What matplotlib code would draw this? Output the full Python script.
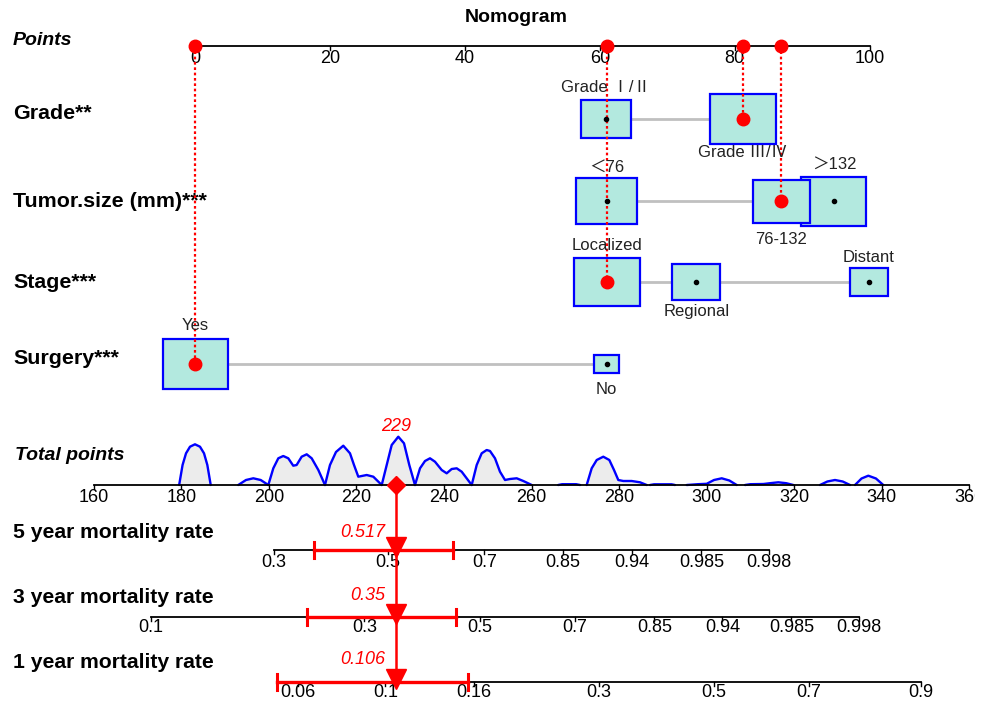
import matplotlib
matplotlib.use("Agg")
import matplotlib.pyplot as plt
from matplotlib.patches import Rectangle
from matplotlib.transforms import Bbox

# ---------------- data ----------------
title = "Nomogram"
var_names = ["Grade**", "Tumor.size (mm)***", "Stage***", "Surgery***"]
grade_levels = ["Grade \u2160/\u2161", "Grade \u2162/\u2163"]
grade_points = [60.9, 81.2]
tumor_levels = ["\uff1c76", "76-132", "\uff1e132"]
tumor_points = [61.0, 86.9, 94.7]
stage_levels = ["Localized", "Regional", "Distant"]
stage_points = [61.0, 74.3, 99.9]
surgery_levels = ["Yes", "No"]
surgery_points = [0.0, 61.0]
selected_level = [1, 1, 0, 0]

points_ticks = [0, 20, 40, 60, 80, 100]
total_ticks = [160, 180, 200, 220, 240, 260, 280, 300, 320, 340, 360]
total_score = 229

mort_names = ["5 year mortality rate", "3 year mortality rate", "1 year mortality rate"]
mort5_ticks = ["0.3", "0.5", "0.7", "0.85", "0.94", "0.985", "0.998"]
mort5_pos = [201.2, 227.2, 249.2, 267.2, 282.9, 298.8, 314.3]
mort3_ticks = ["0.1", "0.3", "0.5", "0.7", "0.85", "0.94", "0.985", "0.998"]
mort3_pos = [173.0, 221.8, 248.2, 269.9, 288.1, 303.6, 319.4, 334.9]
mort1_ticks = ["0.06", "0.1", "0.16", "0.3", "0.5", "0.7", "0.9"]
mort1_pos = [206.7, 226.6, 246.9, 275.4, 301.7, 323.3, 349.0]
mort_estimates = ["0.517", "0.35", "0.106"]
mort_ci_low = [210.4, 208.6, 201.8]
mort_ci_high = [242.1, 242.8, 245.4]

# density of total points (x in total points, relative height)
dens_x = [
    [179.5, 180.28, 181.07, 181.98, 183.12, 184.26, 185.18, 185.94, 186.71],
    [193.01, 194.77, 196.44, 198.13, 199.87],
    [199.87, 201.01, 202.15, 203.29, 204.43, 205.57, 206.34, 207.49, 208.64, 209.78, 211.30, 212.82],
    [212.82, 213.96, 215.33, 217.00, 218.53, 219.45, 220.43, 222.35, 223.86, 225.78],
    [225.78, 226.92, 228.06, 229.57, 230.87, 232.08, 233.38],
    [233.38, 234.53, 235.67, 236.81, 237.95, 239.48, 240.62, 241.77, 242.91, 244.05, 246.34],
    [246.34, 247.48, 248.62, 249.76, 250.52, 251.66, 252.80, 253.95, 255.09, 256.62, 258.13, 260.05],
    [266.1, 267.0, 270.2, 271.1],
    [272.61, 273.75, 274.90, 276.40, 277.78, 278.85, 279.83, 280.97, 282.89, 284.79, 286.32],
    [287.07, 288.0, 292.0, 292.78],
    [295.46, 298.0, 300.03, 301.7, 303.46, 305.2, 306.88],
    [308.78, 310.0, 313.0, 314.5, 316.39, 318.2, 319.82],
    [325.91, 327.6, 329.34, 331.1, 332.77],
    [333.91, 335.4, 336.95, 338.7, 340.37],
]
dens_h = [
    [0, 20, 31.7, 38.3, 40.7, 38.3, 31.7, 20, 0],
    [0, 5, 6.7, 5, 0],
    [0, 16.7, 26.7, 29, 26.7, 19.3, 20, 28.3, 30.7, 26.7, 15, 0],
    [0, 20, 33, 39.3, 31.7, 20, 8.3, 10, 8.3, 0],
    [0, 20, 40, 48.3, 41.7, 20, 0],
    [0, 16.7, 24, 26.7, 23.3, 15, 11.7, 16, 16.7, 13.3, 0],
    [0, 20, 31.7, 35, 34, 26.7, 13.3, 5, 6, 6.7, 4, 0],
    [0, 0.8, 0.8, 0],
    [0, 16.7, 25, 28.3, 25, 15, 5, 4, 4, 2.7, 0],
    [0, 0.7, 0.7, 0],
    [0, 0.8, 1.2, 5, 6.7, 4.5, 0],
    [0, 0.8, 1.0, 1.8, 2.7, 1.8, 0],
    [0, 3.5, 5, 3.5, 0],
    [0, 6.5, 9.3, 6.5, 0],
]

# ---------------- layout / style ----------------
W, H = 984, 701
FONT = "Liberation Sans"
CJK = ["Liberation Sans", "Noto Sans CJK SC"]
BOX_FILL = "#b3e9df"
BOX_EDGE = "#0000ff"
RED = "#ff0000"

levels = [grade_levels, tumor_levels, stage_levels, surgery_levels]
pts = [grade_points, tumor_points, stage_points, surgery_points]
row_y = [119, 201, 282, 364]
row_label_y = [119, 207, 288, 364]
box_w = [[50.3, 65.7], [61.7, 56.7, 65.0], [66.0, 48.3, 38.3], [65.0, 25.0]]
box_h = [[38.0, 49.3], [46.3, 43.0, 49.0], [48.7, 36.0, 28.3], [49.3, 18.0]]
lab_off = [[-27, 38], [-29, 43, -32.5], [-32, 34, -20.3], [-33.5, 29.5]]
box_order = [[0, 1], [2, 1, 0], [0, 1, 2], [0, 1]]
Y_PTS, Y_TOT = 46, 485
mort_y = [550, 616.5, 681.5]
mort_tick_base = [566.7, 631.7, 696.7]
mort_label_y = [538, 603, 668]
mort_est_y = [537, 600, 664]

fig = plt.figure(figsize=(W / 100, H / 100), dpi=100)
ax_p = fig.add_axes([0, 0, 1, 1])
ax_t = fig.add_axes([0, 0, 1, 1])
ppx = (869.7 - 195.0) / 100.0
tpx = 4.377
ax_p.set_xlim(-195.0 / ppx, (W - 195.0) / ppx)
ax_t.set_xlim(160 - 93.8 / tpx, 160 + (W - 93.8) / tpx)
for a in (ax_p, ax_t):
    a.set_ylim(H, 0)
    a.axis("off")
    a.patch.set_alpha(0)

left = ax_p.get_yaxis_transform()
AXLW = 1.3

# title
fig.text(516 / W, 1 - 22 / H, title, ha="center", va="baseline", fontsize=14,
         fontweight="bold", family=FONT)

# points axis
ax_p.text(13 / W, 45, "Points", transform=left, fontsize=14, fontweight="bold",
          fontstyle="italic", family=FONT, va="baseline")
ax_p.plot([points_ticks[0], points_ticks[-1]], [Y_PTS, Y_PTS], color="black", lw=AXLW, zorder=2)
for t in points_ticks:
    ax_p.plot([t, t], [Y_PTS, Y_PTS + 4], color="black", lw=1.0, zorder=2)
    ax_p.text(t, 63, str(t), ha="center", va="baseline", fontsize=13, family=FONT)

# variable rows
for i, name in enumerate(var_names):
    y = row_y[i]
    ax_p.text(13 / W, row_label_y[i], name, transform=left, fontsize=15.4, fontweight="bold",
              family=FONT, va="baseline")
    ax_p.plot([min(pts[i]), max(pts[i])], [y, y], color="#c0c0c0", lw=2.0, zorder=1)
    for z, j in enumerate(box_order[i]):
        w = box_w[i][j] / ppx
        h = box_h[i][j]
        ax_p.add_patch(Rectangle((pts[i][j] - w / 2, y - h / 2), w, h, facecolor=BOX_FILL,
                                 edgecolor=BOX_EDGE, lw=1.6, zorder=3 + z * 0.1))
    for j, lev in enumerate(levels[i]):
        ax_p.plot(pts[i][j], y, "o", color="black", ms=3, zorder=5)
        ax_p.text(pts[i][j], y + lab_off[i][j], lev, ha="center", va="baseline",
                  fontsize=12, family=CJK, color="#222222", zorder=6)
    sel = pts[i][selected_level[i]]
    ax_p.plot([sel, sel], [Y_PTS, y], color=RED, lw=1.6, ls=(0, (1.2, 1.2)), zorder=4)
    ax_p.plot(sel, y, "o", color=RED, ms=9, zorder=7)
    ax_p.plot(sel, Y_PTS, "o", color=RED, ms=9, zorder=7)

# total points axis with density
ax_t.text(15 / W, 460, "Total points", transform=ax_t.get_yaxis_transform(), fontsize=14,
          fontweight="bold", fontstyle="italic", family=FONT, va="baseline")
for xs, hs in zip(dens_x, dens_h):
    ys = [Y_TOT - v for v in hs]
    ax_t.fill_between(xs, ys, Y_TOT, color="#ececec", lw=0, zorder=1)
    ax_t.plot(xs, ys, color="#0000ff", lw=1.7, zorder=2, solid_joinstyle="round",
              solid_capstyle="round")
ax_t.plot([total_ticks[0], total_ticks[-1]], [Y_TOT, Y_TOT], color="black", lw=AXLW, zorder=3)
clip = Bbox([[0, 0], [975, H]])
for t in total_ticks:
    ax_t.plot([t, t], [Y_TOT, Y_TOT + 4], color="black", lw=1.0, zorder=3)
    tx = ax_t.text(t, 502, str(t), ha="center", va="baseline", fontsize=13, family=FONT)
    tx.set_clip_box(clip)
    tx.set_clip_on(True)

# mortality axes
ticks_all = [mort5_ticks, mort3_ticks, mort1_ticks]
pos_all = [mort5_pos, mort3_pos, mort1_pos]
for k, name in enumerate(mort_names):
    y = mort_y[k]
    ax_t.text(13 / W, mort_label_y[k], name, transform=ax_t.get_yaxis_transform(), fontsize=15.2,
              fontweight="bold", family=FONT, va="baseline")
    ax_t.plot([pos_all[k][0], pos_all[k][-1]], [y, y], color="black", lw=AXLW, zorder=2)
    for lab, p in zip(ticks_all[k], pos_all[k]):
        ax_t.plot([p, p], [y, y + 4], color="black", lw=1.0, zorder=2)
        ax_t.text(p, mort_tick_base[k], lab, ha="center", va="baseline", fontsize=13, family=FONT)
    # confidence interval
    ax_t.plot([mort_ci_low[k], mort_ci_high[k]], [y, y], color=RED, lw=2.4, zorder=5)
    for c in (mort_ci_low[k], mort_ci_high[k]):
        ax_t.plot([c, c], [y - 8, y + 8], color=RED, lw=2.2, zorder=5)
    ax_t.plot(total_score, y - 3, "v", color=RED, ms=14, zorder=6)
    ax_t.text(total_score - 11 / tpx, mort_est_y[k], mort_estimates[k], ha="right",
              va="baseline", fontsize=13, fontstyle="italic", color=RED, family=FONT)

# red pointer
ax_t.plot([total_score, total_score], [Y_TOT, mort_y[-1]], color=RED, lw=1.8, zorder=4)
ax_t.plot(total_score, Y_TOT, "D", color=RED, ms=9, zorder=6)
ax_t.text(total_score, 431, str(total_score), ha="center", va="baseline", fontsize=13,
          fontstyle="italic", color=RED, family=FONT)

fig.savefig("out.png", dpi=100)
